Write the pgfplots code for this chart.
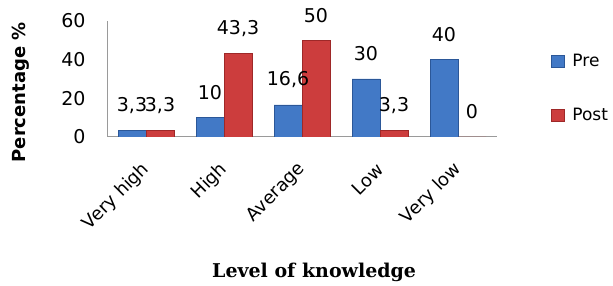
\documentclass[border=0pt]{standalone}
\usepackage{fontspec}
\setmainfont{DejaVu Sans}
\newfontfamily\titlefont{DejaVu Serif}
\usepackage{pgfplots}
\pgfplotsset{compat=1.18}
\pgfplotsset{sqlegend/.style={legend image code/.code={\draw[##1] (0pt,-6pt) rectangle (13pt,6pt);}}}
\definecolor{bluemid}{HTML}{4279C6}
\definecolor{blueedge}{HTML}{2B5798}
\definecolor{redmid}{HTML}{CC3D3D}
\definecolor{rededge}{HTML}{9E2828}
\definecolor{axisgray}{HTML}{9A9A9A}
\begin{document}
\begin{tikzpicture}
\path[use as bounding box] (0,0) rectangle (613pt,286pt);
\begin{axis}[
  at={(107pt,149pt)}, anchor=south west,
  scale only axis, width=390pt, height=116pt,
  ybar=0pt, bar width=28pt,
  xmin=-0.5, xmax=4.5, ymin=0, ymax=60,
  xtick={0,1,2,3,4},
  xticklabels={Very high,High,Average,Low,Very low},
  ytick={0,20,40,60},
  axis lines*=left,
  axis line style={axisgray, line width=1pt},
  major tick length=0pt,
  /pgf/number format/assume math mode=true,
  tick label style={font=\fontsize{19}{22}\selectfont, text=black},
  xticklabel style={xshift=3pt, yshift=-27pt, rotate=45, anchor=east, font=\fontsize{18}{21}\selectfont},
  yticklabel style={xshift=-18pt},
  ylabel={\textbf{Percentage \%}},
  ylabel style={at={(rel axis cs:-0.2205,0.385)}, anchor=center, font=\fontsize{18}{21}\selectfont},
  xlabel={\titlefont\bfseries Level of knowledge},
  xlabel style={at={(rel axis cs:0.531,-1.164)}, anchor=center, font=\fontsize{19}{22}\selectfont},
  nodes near coords,
  nodes near coords style={font=\fontsize{19}{22}\selectfont, anchor=center, yshift=25pt,
    /pgf/number format/fixed, /pgf/number format/precision=1,
    /pgf/number format/use comma, /pgf/number format/assume math mode=true},
  legend style={draw=none, fill=none, at={(rel axis cs:1.138,0.73)}, anchor=north west,
    font=\fontsize{17}{20}\selectfont, row sep=36pt, column sep=6pt, inner sep=0pt},
  legend cell align=left,
]
\addplot[draw=blueedge, fill=bluemid, sqlegend]
  coordinates {(0,3.3) (1,10) (2,16.6) (3,30) (4,40)};
\addlegendentry{Pre}
\addplot[draw=rededge, fill=redmid, sqlegend]
  coordinates {(0,3.3) (1,43.3) (2,50) (3,3.3) (4,0)};
\addlegendentry{Post}
\end{axis}
\end{tikzpicture}
\end{document}
